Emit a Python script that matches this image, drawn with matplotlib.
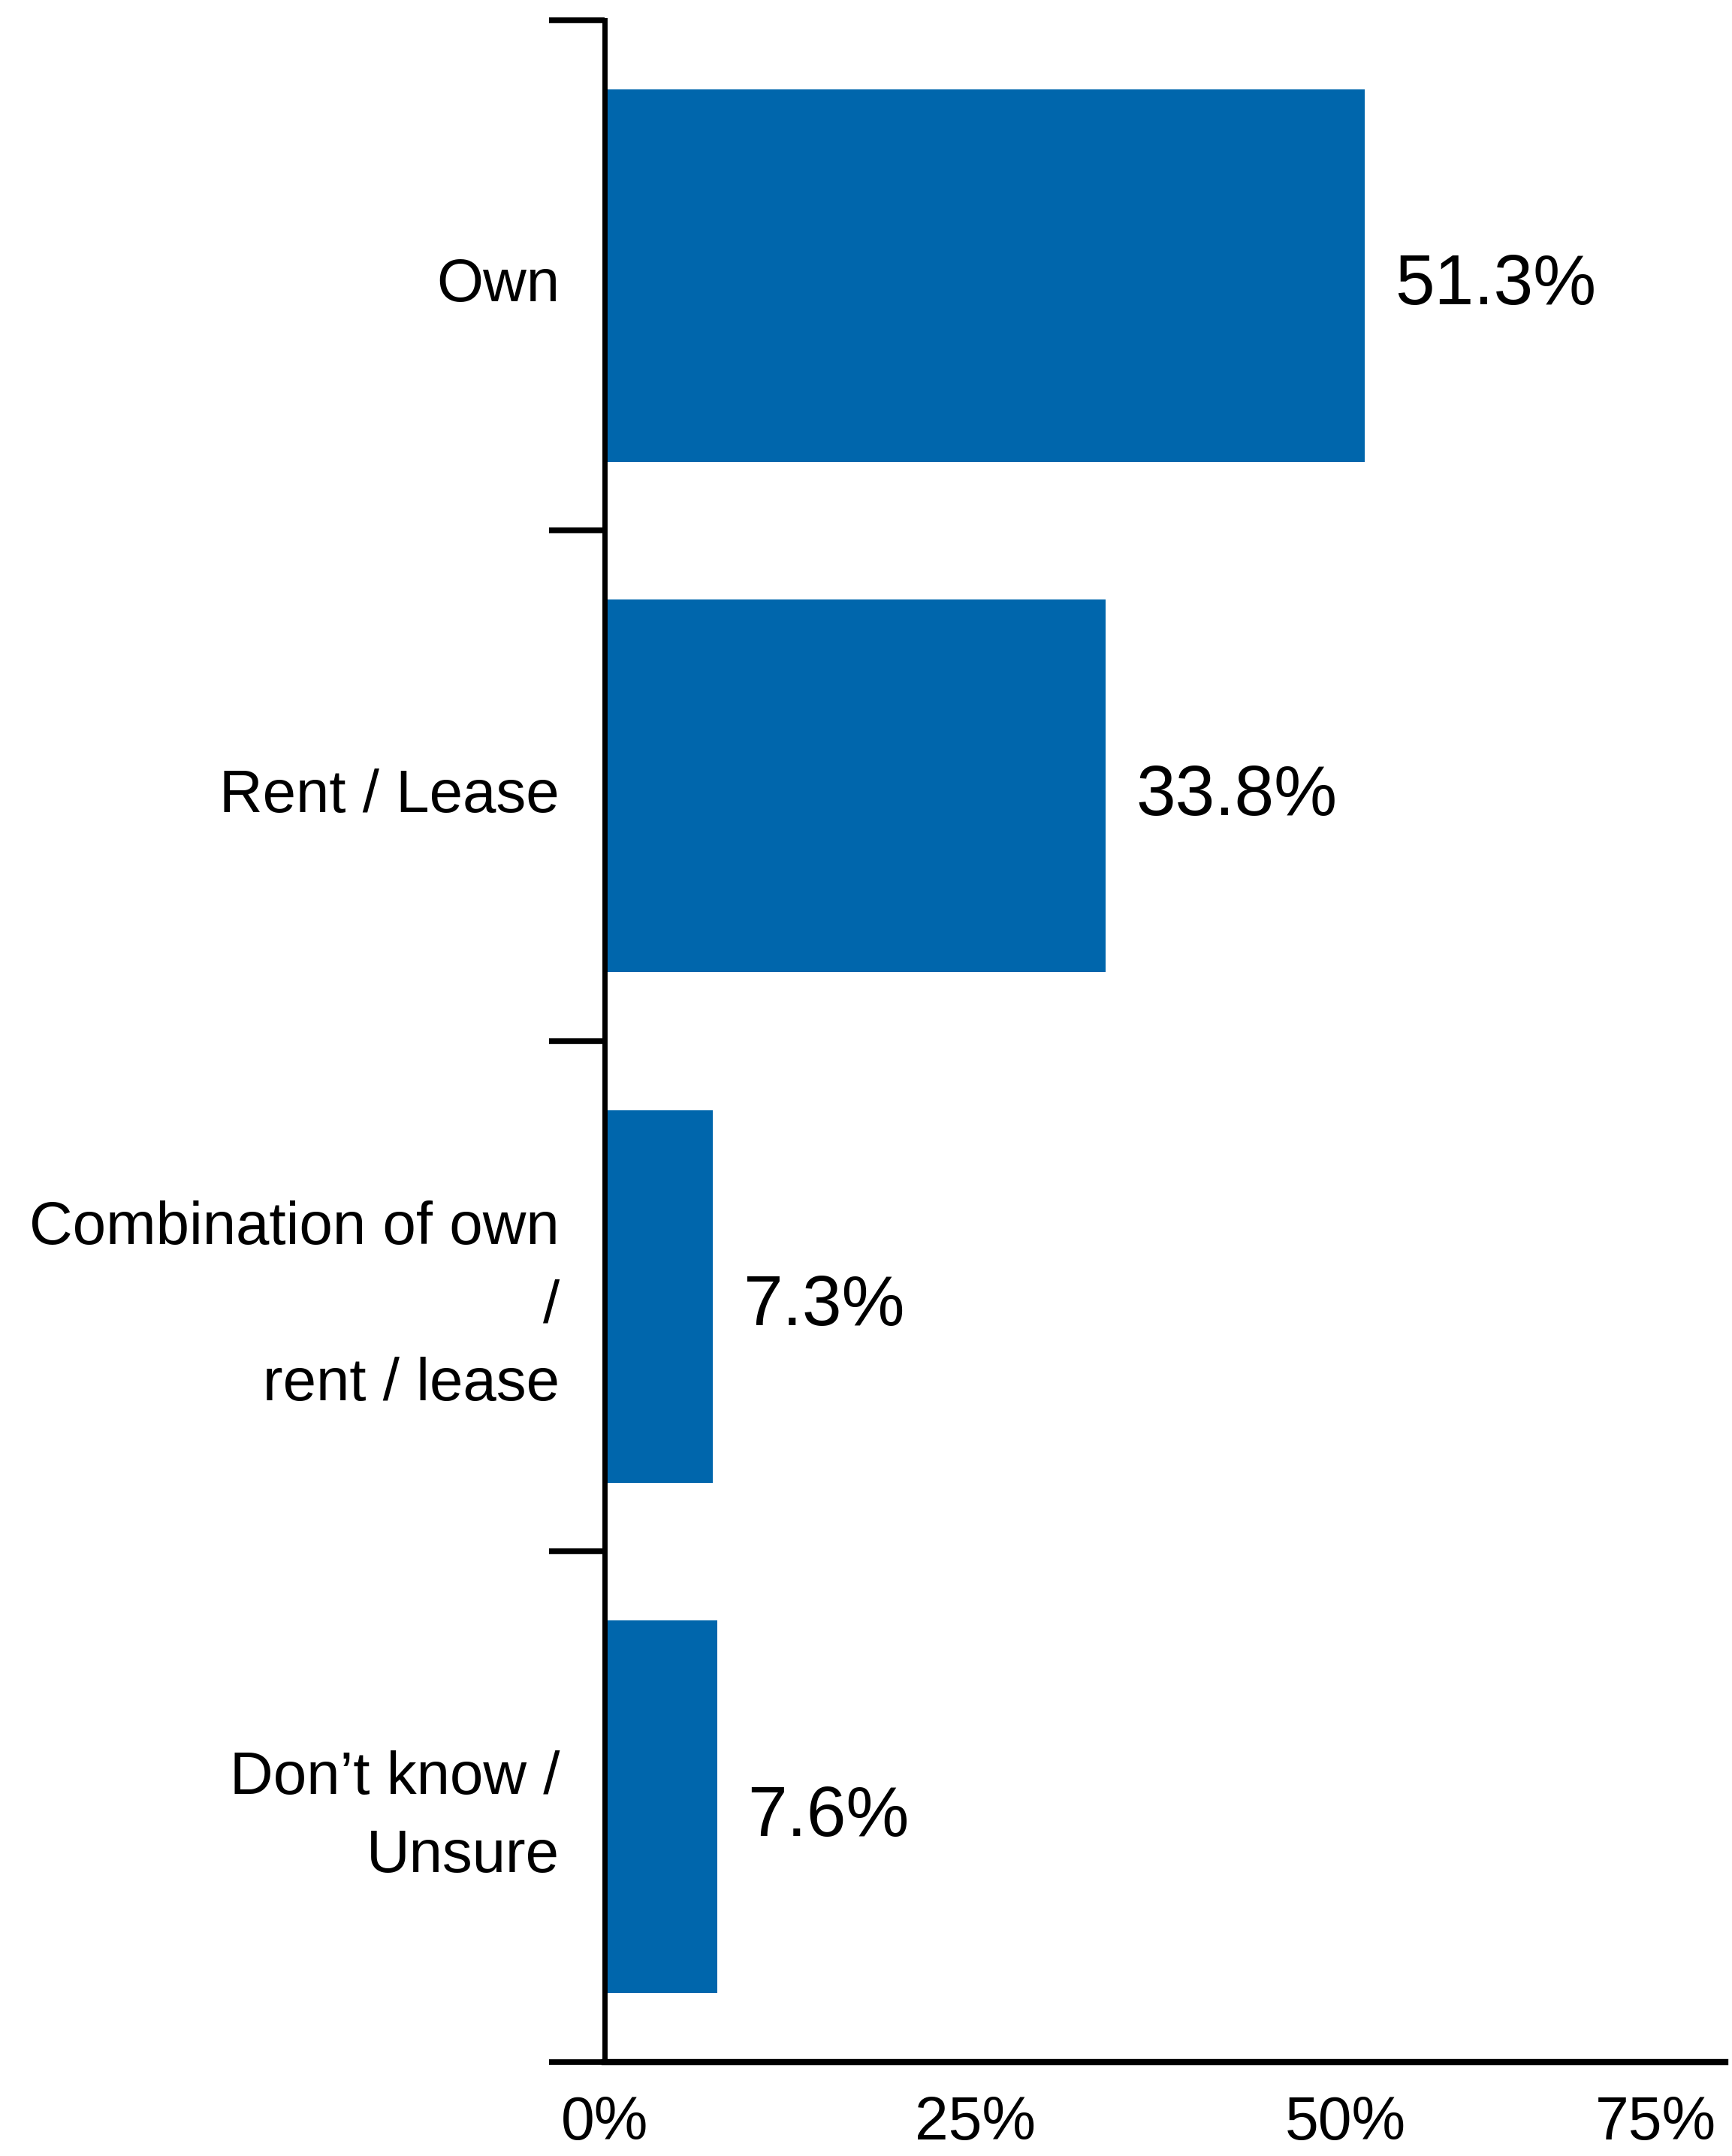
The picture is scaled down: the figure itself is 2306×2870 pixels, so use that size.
import numpy as np
import matplotlib.pyplot as plt
from matplotlib.ticker import FixedLocator

plt.rcParams['font.family'] = ['Liberation Sans', 'DejaVu Sans']

categories = ['Own', 'Rent / Lease', 'Combination of own\n/\nrent / lease', 'Don\u2019t know /\nUnsure']
shares = [51.3, 33.8, 7.3, 7.6]
xticks = [0, 25, 50, 75]
xtick_labels = ['0%', '25%', '50%', '75%']

bar_color = '#0066AC'

fig = plt.figure(figsize=(23.06, 28.70), dpi=100)
ax = fig.add_axes([0.349, 0.0436, 0.647, 0.947])

y = np.arange(len(categories))
ax.barh(y, shares, height=0.73, color=bar_color, zorder=2)

for yi, v in zip(y, shares):
    ax.annotate(f'{v:.1f}%', xy=(v, yi), xytext=(29, -10), textcoords='offset points',
                ha='left', va='center', fontsize=68, color='black')

# category names, right-aligned left of the axis
for yi, name in zip(y, categories):
    ax.annotate(name, xy=(0, yi), xycoords=('axes fraction', 'data'),
                xytext=(-43, -10), textcoords='offset points',
                ha='right', va='center', fontsize=57.5, linespacing=1.5,
                multialignment='right', color='black')

ax.set_ylim(len(categories) - 0.5, -0.5)
ax.set_xlim(0, 75.6)

# boundary ticks between the categories
ax.set_yticks([])
ax.yaxis.set_minor_locator(FixedLocator(np.arange(-0.5, len(categories), 1.0)))
ax.tick_params(axis='y', which='minor', length=53, width=5.5, direction='out', color='black')

ax.set_xticks(xticks)
ax.set_xticklabels(xtick_labels, fontsize=58)
ax.tick_params(axis='x', length=0, pad=32)
ax.get_xticklabels()[-1].set_horizontalalignment('right')

for side in ['top', 'right']:
    ax.spines[side].set_visible(False)
ax.spines['left'].set_linewidth(5)
ax.spines['bottom'].set_linewidth(6)

fig.savefig('out.png', dpi=100, facecolor='white')
